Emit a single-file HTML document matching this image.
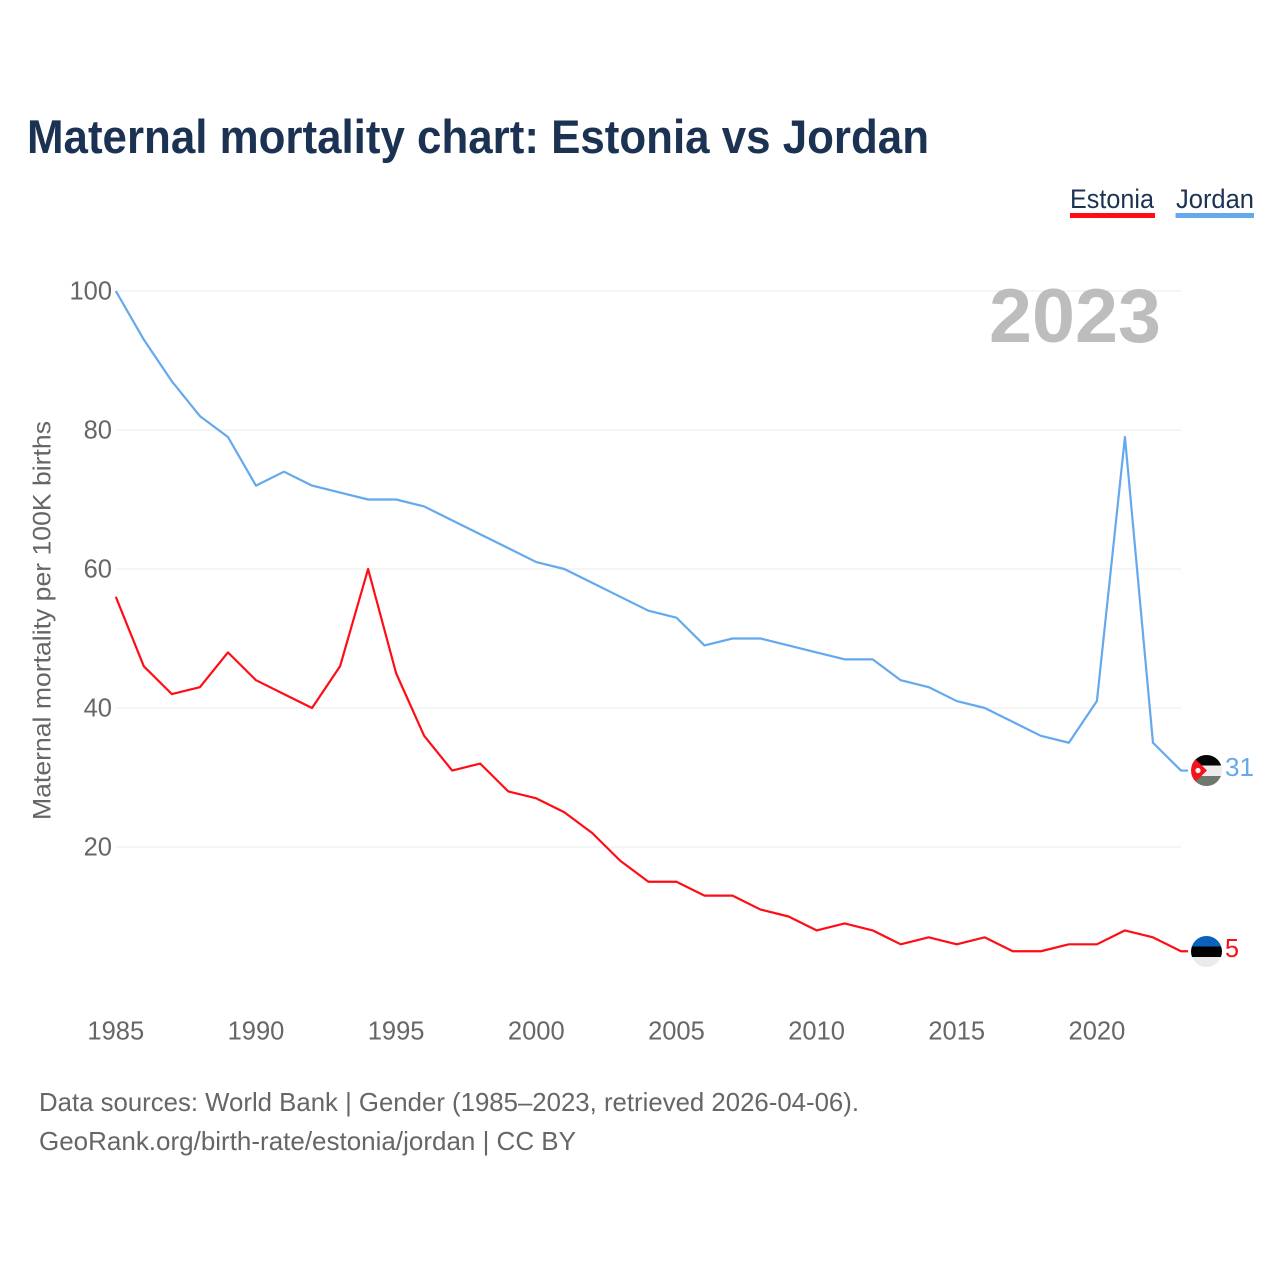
<!DOCTYPE html>
<html lang="en">
<head>
<meta charset="utf-8">
<title>Maternal mortality chart: Estonia vs Jordan</title>
<style>
  html, body { margin: 0; padding: 0; background: #fff; }
  svg { display: block; font-family: "Liberation Sans", sans-serif; }
</style>
</head>
<body>
<svg id="chart" xmlns="http://www.w3.org/2000/svg" width="1280" height="1280" viewBox="0 0 1280 1280">
  <defs>
    <clipPath id="clip-jordan"><circle cx="1206.5" cy="770.5" r="15.5"/></clipPath>
    <clipPath id="clip-estonia"><circle cx="1206.5" cy="951.5" r="15.5"/></clipPath>
  </defs>
  <rect x="0" y="0" width="1280" height="1280" fill="#fff"/>
  <text x="27" y="153" font-size="47" font-weight="700" fill="#1b3252" textLength="902" lengthAdjust="spacingAndGlyphs">Maternal mortality chart: Estonia vs Jordan</text>

  <g>
    <text x="1070" y="208" font-size="27" fill="#1b3252" textLength="84" lengthAdjust="spacingAndGlyphs">Estonia</text>
    <rect x="1070" y="213" width="85" height="5" fill="#ff0d14"/>
  </g>
  <g>
    <text x="1176" y="208" font-size="27" fill="#1b3252" textLength="78" lengthAdjust="spacingAndGlyphs">Jordan</text>
    <rect x="1175.500" y="213" width="78.500" height="5" fill="#64a8ee"/>
  </g>

  <g id="grid"></g>
  <g id="y-ticks"></g>
  <g id="x-ticks"></g>

  <text x="1161" y="342" text-anchor="end" font-size="76" font-weight="700" fill="#bdbdbd" textLength="172" lengthAdjust="spacingAndGlyphs">2023</text>

  <text transform="translate(50.500,820) rotate(-90)" font-size="25" fill="#666" textLength="399" lengthAdjust="spacingAndGlyphs">Maternal mortality per 100K births</text>

  <g id="series"></g>

  <g clip-path="url(#clip-jordan)">
    <rect x="1191" y="755" width="31" height="10.500" fill="#050505"/>
    <rect x="1191" y="765.500" width="31" height="10.500" fill="#ececec"/>
    <rect x="1191" y="776" width="31" height="10.500" fill="#6e786d"/>
    <polygon points="1191,755 1207,770.500 1191,786" fill="#f4141c"/>
    <circle cx="1198" cy="770.500" r="2.600" fill="#f4f4f4"/>
  </g>
  <g clip-path="url(#clip-estonia)">
    <rect x="1191" y="936" width="31" height="10.500" fill="#0a62bd"/>
    <rect x="1191" y="946.500" width="31" height="10.500" fill="#000"/>
    <rect x="1191" y="957" width="31" height="10.500" fill="#ebebeb"/>
  </g>

  <text x="1225" y="776" font-size="26" fill="#64a8ee" textLength="29" lengthAdjust="spacingAndGlyphs">31</text>
  <text x="1225" y="957" font-size="26" fill="#ff0d14" textLength="14" lengthAdjust="spacingAndGlyphs">5</text>

  <text x="39" y="1111" font-size="26" fill="#666" textLength="820" lengthAdjust="spacingAndGlyphs">Data sources: World Bank | Gender (1985–2023, retrieved 2026-04-06).</text>
  <text x="39" y="1150" font-size="26" fill="#666" textLength="537" lengthAdjust="spacingAndGlyphs">GeoRank.org/birth-rate/estonia/jordan | CC BY</text>
</svg>
<script>
var years = [1985,1986,1987,1988,1989,1990,1991,1992,1993,1994,1995,1996,1997,1998,1999,2000,2001,2002,2003,2004,2005,2006,2007,2008,2009,2010,2011,2012,2013,2014,2015,2016,2017,2018,2019,2020,2021,2022,2023];
var jordanValues = [100,93,87,82,79,72,74,72,71,70,70,69,67,65,63,61,60,58,56,54,53,49,50,50,49,48,47,47,44,43,41,40,38,36,35,41,79,35,31];
var estoniaValues = [56,46,42,43,48,44,42,40,46,60,45,36,31,32,28,27,25,22,18,15,15,13,13,11,10,8,9,8,6,7,6,7,5,5,6,6,8,7,5];
var yTickValues = [20,40,60,80,100];
var xTickValues = [1985,1990,1995,2000,2005,2010,2015,2020];

var NS = 'http://www.w3.org/2000/svg';
function xScale(year) { return 115.8 + (year - 1985) * (1181 - 115.8) / 38; }
function yScale(value) { return 986 - value * 6.95; }
function make(tag, attrs, parent) {
  var el = document.createElementNS(NS, tag);
  for (var k in attrs) { el.setAttribute(k, attrs[k]); }
  parent.appendChild(el);
  return el;
}

var grid = document.getElementById('grid');
var yTicks = document.getElementById('y-ticks');
yTickValues.forEach(function (v) {
  var line = make('line', { x1: 116, x2: 1181, y1: yScale(v), y2: yScale(v), stroke: '#ebebeb', 'stroke-width': 1 }, grid);
  
  
  var label = make('text', { x: 112, y: yScale(v) + 8.500, 'text-anchor': 'end', 'font-size': 25.5, fill: '#666' }, yTicks);
  
  
  label.textContent = v;
});

var xTicks = document.getElementById('x-ticks');
xTickValues.forEach(function (year) {
  var label = make('text', { x: xScale(year), y: 1039.5, 'text-anchor': 'middle', 'font-size': 25.5, fill: '#666' }, xTicks);
  
  
  label.textContent = year;
});

function seriesPoints(values) {
  var pts = values.map(function (v, i) { return xScale(years[i]) + ',' + yScale(v); });
  var last = values[values.length - 1];
  pts.push((xScale(years[years.length - 1]) + 7) + ',' + yScale(last));
  return pts.join(' ');
}
var seriesGroup = document.getElementById('series');
var jordanLine = make('polyline', { points: seriesPoints(jordanValues), fill: 'none', stroke: '#64a8ee', 'stroke-width': 2.2, 'stroke-linejoin': 'round' }, seriesGroup);


var estoniaLine = make('polyline', { points: seriesPoints(estoniaValues), fill: 'none', stroke: '#ff0d14', 'stroke-width': 2.2, 'stroke-linejoin': 'round' }, seriesGroup);


</script>
</body>
</html>
